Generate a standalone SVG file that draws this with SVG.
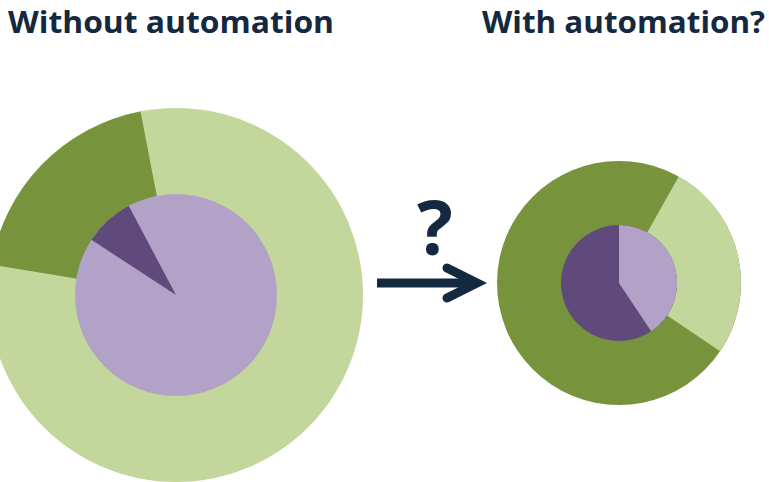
<svg xmlns="http://www.w3.org/2000/svg" width="769" height="482" viewBox="0 0 769 482">
  <style>
    .title { font-family: "Open Sans", "Liberation Sans", sans-serif; font-weight: 700; font-size: 30px; fill: #14283F; }
    .q { font-family: "Open Sans", "Liberation Sans", sans-serif; font-weight: 700; font-size: 75px; fill: #14283F; }
    .lg { fill: #C3D69B; }
    .dg { fill: #77933C; }
    .lp { fill: #B3A2C7; }
    .dp { fill: #604A7B; }
    .conn { stroke: #14283F; stroke-width: 9; fill: none; }
  </style>
  <defs>
    <marker id="chev" markerUnits="userSpaceOnUse" viewBox="-40 -25 50 50" refX="0" refY="0" markerWidth="50" markerHeight="50" orient="auto" overflow="visible">
      <path d="M -30 -15 L 0 0 L -30 15" fill="none" stroke="#14283F" stroke-width="9" stroke-linecap="round" stroke-linejoin="miter"/>
    </marker>
  </defs>

  <g id="title-without">
    <text class="title" x="8" y="33" textLength="326" lengthAdjust="spacingAndGlyphs">Without automation</text>
  </g>
  <g id="title-with">
    <text class="title" x="482" y="33" textLength="283" lengthAdjust="spacingAndGlyphs">With automation?</text>
  </g>

  <g id="pie-without">
    <circle class="lg" cx="176" cy="295" r="187"/>
    <path class="dg" d="M 176 295 L 140.5 111.4 A 187 187 0 0 0 -8.5 264.6 Z"/>
    <circle class="lp" cx="176" cy="295" r="101"/>
    <path class="dp" d="M 176 295 L 91.4 239.8 A 101 101 0 0 1 128.7 205.8 Z"/>
  </g>

  <g id="pie-with">
    <circle class="dg" cx="619" cy="283" r="122"/>
    <path class="lg" d="M 619 283 L 678.7 176.6 A 122 122 0 0 1 720.1 351.2 Z"/>
    <circle class="dp" cx="619" cy="283" r="58"/>
    <path class="lp" d="M 619 283 L 619 225 A 58 58 0 0 1 651.2 331.3 Z"/>
  </g>

  <g id="question">
    <text class="q" x="435" y="255" text-anchor="middle">?</text>
  </g>

  <g id="connectors">
    <line class="conn" x1="377" y1="283" x2="477" y2="283" marker-end="url(#chev)"/>
  </g>
</svg>
